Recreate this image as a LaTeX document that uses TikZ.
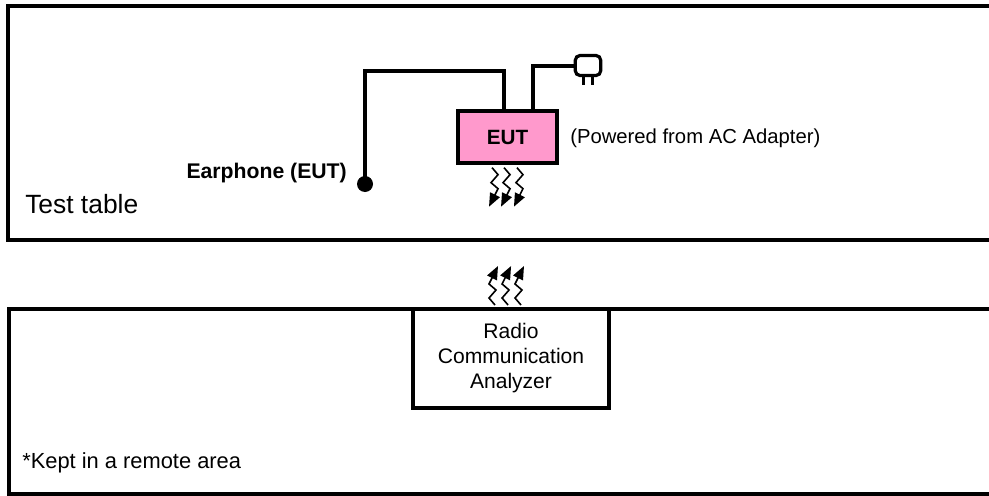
\documentclass[tikz,border=0pt]{standalone}
\usepackage{fontspec}
\setmainfont{Liberation Sans}
\usetikzlibrary{arrows.meta,positioning}
\definecolor{eutpink}{HTML}{FF99CC}

\begin{document}
\begin{tikzpicture}[x=0.75pt,y=-0.75pt,
		wave/.style={line width=1.2pt,-{Triangle[length=10pt,width=8pt]}},
		cable/.style={line width=3pt}]
		\useasboundingbox (0,0) rectangle (989,496);
		% test table and remote area
		\draw[line width=3pt] (995,6) -- (8,6) -- (8,240) -- (995,240);
		\draw[line width=3pt] (995,309) -- (9,309) -- (9,494) -- (995,494);
		\node[anchor=base west,inner sep=0,font=\fontsize{19.8}{22}\selectfont] (tbl) at (25,213) {Test table};
		\node[anchor=base west,inner sep=0,font=\fontsize{16.4}{18}\selectfont] (remote) at (22,468) {*Kept in a remote area};
		% EUT
		\node[draw,line width=3pt,fill=eutpink,minimum width=74.25pt,minimum height=39pt,
			font=\bfseries\fontsize{15.5}{18}\selectfont] (eut) at (507.5,137) {EUT};
		\node[anchor=base west,inner sep=0,font=\fontsize{15.2}{18}\selectfont] (power) at (570,143) {(Powered from AC Adapter)};
		% earphone
		\node[circle,fill,inner sep=0,minimum size=12pt] (ear) at (365,184) {};
		\node[anchor=base east,inner sep=0,font=\bfseries\fontsize{15.9}{18}\selectfont] (earlbl) at (347,178) {Earphone (EUT)};
		\draw[cable] (ear.center) -- ++(0,-113) -| ([xshift=-2.6pt]eut.north);
		% AC adapter plug
		\node[draw,line width=2.4pt,rounded corners=3.5pt,minimum width=19pt,minimum height=15pt,inner sep=0] (plug) at (588,65.5) {};
		\draw[cable] ([xshift=19.1pt]eut.north) |- (plug.west);
		\draw[line width=2.4pt] ([xshift=-3.4pt]plug.south) -- ++(0,8);
		\draw[line width=2.4pt] ([xshift=3.2pt]plug.south) -- ++(0,8);
		% analyzer
		\node[draw,line width=3pt,minimum width=147pt,minimum height=74.25pt,align=center,
			font=\fontsize{15.8}{18.75}\selectfont] (rca) at (511,358.5) {Radio\\Communication\\Analyzer};
		% radio waves
		\foreach \dx in {-11.6,-2.6,7.1} {
			\draw[wave] ([xshift=\dx pt,yshift=-2pt]eut.south) -- ++(6,7) -- ++(-7,8) -- ++(7,6) -- ++(-9,18);
		}
		\foreach \dx in {-12,-2.2,7.5} {
			\draw[wave] ([xshift=\dx pt,yshift=1.5pt]rca.north) -- ++(-6,-7) -- ++(7,-8) -- ++(-7,-6) -- ++(9,-18);
		}
\end{tikzpicture}
\end{document}
